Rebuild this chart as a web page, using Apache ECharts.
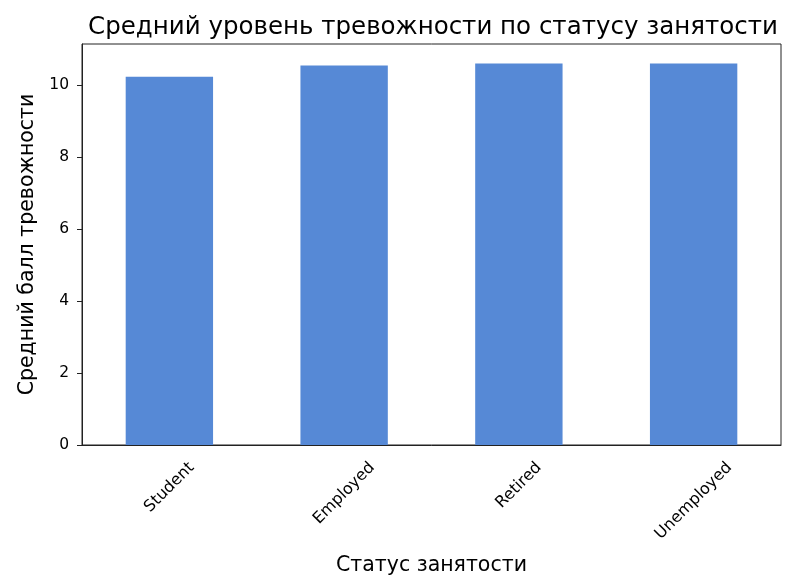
<!DOCTYPE html>
<html>
<head>
<meta charset="utf-8">
<script src="https://cdn.jsdelivr.net/npm/echarts@6/dist/echarts.min.js"></script>
<style>html,body{margin:0;padding:0;background:#fff}#c{width:812px;height:581px}</style>
</head>
<body>
<div id="c"></div>
<script>
const categories = ['Student', 'Employed', 'Retired', 'Unemployed'];
const values = [10.23, 10.54, 10.60, 10.60];
const yTicks = [0, 2, 4, 6, 8, 10];
const yMax = 11.14;

const font = 'DejaVu Sans';
const xFont = 16;
// shift rotated labels so their tops line up (centered under each tick)
const ctx = document.createElement('canvas').getContext('2d');
ctx.font = xFont + 'px "' + font + '"';
const rich = {};
categories.forEach((c, i) => {
  const L = ctx.measureText(c).width;
  const d = (L + 0.75 * xFont) * 0.3536;
  const s = d * 0.7071;
  rich['l' + i] = {fontFamily: font, fontSize: xFont, color: '#000', padding: [2 * s, 2 * s, 0, 0]};
});

const chart = echarts.init(document.getElementById('c'), null, {renderer: 'canvas'});
chart.setOption({
  animation: false,
  backgroundColor: '#fff',
  title: {
    text: 'Средний уровень тревожности по статусу занятости',
    left: 428, top: 10, textAlign: 'center',
    textStyle: {fontFamily: font, fontSize: 24.5, fontWeight: 'normal', color: '#000'}
  },
  grid: {left: 82, right: 31, top: 44, bottom: 136, containLabel: false, outerBoundsMode: 'none',
    show: true, borderColor: '#222', borderWidth: 1, backgroundColor: 'transparent'},
  xAxis: {
    type: 'category',
    data: categories,
    name: 'Статус занятости',
    nameLocation: 'middle',
    nameGap: 110,
    nameTextStyle: {fontFamily: font, fontSize: 20.5, color: '#000'},
    axisLine: {lineStyle: {color: '#222', width: 1}},
    axisTick: {alignWithLabel: true, length: 6, lineStyle: {color: '#222'}},
    axisLabel: {rotate: 45, align: 'center', verticalAlign: 'middle', margin: 16,
      fontFamily: font, fontSize: xFont, color: '#000',
      formatter: (v, i) => '{l' + i + '|' + v + '}', rich: rich}
  },
  yAxis: {
    type: 'value',
    min: 0, max: yMax, interval: 2,
    name: 'Средний балл тревожности',
    nameLocation: 'middle',
    nameGap: 41,
    nameTextStyle: {fontFamily: font, fontSize: 20.5, color: '#000'},
    splitLine: {show: false},
    axisLine: {show: true, lineStyle: {color: '#222', width: 1}},
    axisTick: {show: true, length: 5, lineStyle: {color: '#222'}, customValues: yTicks},
    axisLabel: {fontFamily: font, fontSize: 15.5, color: '#000', margin: 13, customValues: yTicks}
  },
  series: [{
    type: 'bar',
    data: values,
    barWidth: '50%',
    itemStyle: {color: '#5689d6'}
  }]
});
</script>
</body>
</html>
